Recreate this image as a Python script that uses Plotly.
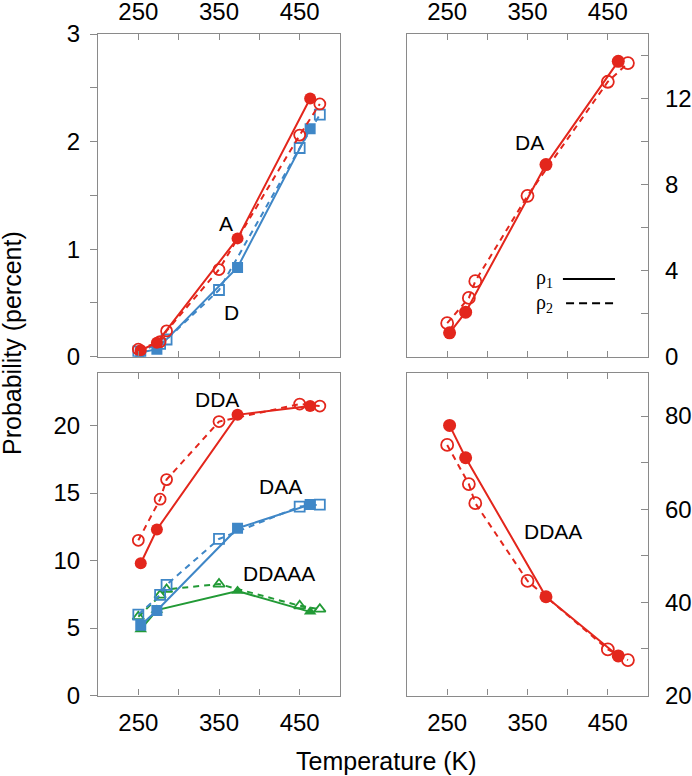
import plotly.graph_objects as go

# ---------------- data ----------------
T1 = [253, 273, 373, 463]              # rho_1 temperatures (K)
T2 = [250, 277, 285, 350, 450, 475]    # rho_2 temperatures (K)

A_r1 = [0.06, 0.13, 1.10, 2.40]
A_r2 = [0.07, 0.14, 0.24, 0.81, 2.06, 2.35]
D_r1 = [0.04, 0.07, 0.83, 2.12]
D_r2 = [0.05, 0.12, 0.16, 0.62, 1.94, 2.25]

DA_r1 = [1.11, 2.07, 8.93, 13.73]
DA_r2 = [1.56, 2.73, 3.51, 7.48, 12.78, 13.65]

DDA_r1 = [9.8, 12.3, 20.8, 21.46]
DDA_r2 = [11.5, 14.55, 16.0, 20.3, 21.6, 21.45]
DAA_r1 = [5.2, 6.3, 12.4, 14.15]
DAA_r2 = [6.0, 7.45, 8.2, 11.6, 14.0, 14.15]
DDAAA_r1 = [4.9, 6.33, 7.74, 6.2]
DDAAA_r2 = [5.84, 7.44, 7.86, 8.26, 6.65, 6.4]

DDAA_r1 = [78.0, 71.05, 41.2, 28.5]
DDAA_r2 = [73.8, 65.4, 61.3, 44.6, 29.9, 27.6]

x_ticks = [250, 350, 450]
y_ticks_A = [0, 1, 2, 3]
y_ticks_DA = [0, 4, 8, 12]
y_ticks_3 = [0, 5, 10, 15, 20]
y_ticks_DDAA = [20, 40, 60, 80]

RED = "#E3261C"
BLUE = "#3F87C7"
GREEN = "#229A36"
AXC = "#8A8A8A"
FONT = "Liberation Sans, Arial, sans-serif"

W, H = 692, 776


def px(x):
    return x / W


def py(y):
    return 1 - y / H


fig = go.Figure()


def add_pair(x1, y1, x2, y2, color, sym_fill, sym_open, xa, ya, size=12):
    fig.add_trace(go.Scatter(
        x=x2, y=y2, mode="lines+markers", xaxis=xa, yaxis=ya, showlegend=False,
        line=dict(color=color, width=2, dash="6px,5px"),
        marker=dict(symbol=sym_open, size=size - 1, color=color,
                    line=dict(color=color, width=1.8))))
    fig.add_trace(go.Scatter(
        x=x1, y=y1, mode="lines+markers", xaxis=xa, yaxis=ya, showlegend=False,
        line=dict(color=color, width=2),
        marker=dict(symbol=sym_fill, size=size, color=color,
                    line=dict(width=0))))


# top-left: A and D
add_pair(T1, D_r1, T2, D_r2, BLUE, "square", "square-open", "x", "y", 11)
add_pair(T1, A_r1, T2, A_r2, RED, "circle", "circle-open", "x", "y", 12)
# top-right: DA
add_pair(T1, DA_r1, T2, DA_r2, RED, "circle", "circle-open", "x2", "y2", 13)
# bottom-left
add_pair(T1, DDAAA_r1, T2, DDAAA_r2, GREEN, "triangle-up", "triangle-up-open", "x3", "y3", 11)
add_pair(T1, DAA_r1, T2, DAA_r2, BLUE, "square", "square-open", "x3", "y3", 11)
add_pair(T1, DDA_r1, T2, DDA_r2, RED, "circle", "circle-open", "x3", "y3", 12)
# bottom-right
add_pair(T1, DDAA_r1, T2, DDAA_r2, RED, "circle", "circle-open", "x4", "y4", 13)

L_dom = [px(98), px(340)]
R_dom = [px(407), px(648)]
T_dom = [py(356.7), py(34)]
B_dom = [py(695.5), py(373)]

tickfont = dict(family=FONT, size=24, color="black")


def xax(dom, anchor, side, standoff):
    return dict(domain=dom, anchor=anchor, side=side, range=[200, 500],
                tickmode="array", tickvals=x_ticks,
                ticks="inside", ticklen=6, tickcolor=AXC, tickwidth=1.2,
                minor=dict(tick0=200, dtick=50, ticks="inside", ticklen=6,
                           tickcolor=AXC, tickwidth=1.2, showgrid=False),
                showline=True, linecolor=AXC, linewidth=1.2, mirror="ticks",
                showgrid=False, zeroline=False, tickfont=tickfont,
                ticklabelstandoff=standoff, automargin=False)


def yax(dom, anchor, side, rng, vals, mdt, mt0, ticks, standoff):
    return dict(domain=dom, anchor=anchor, side=side, range=rng,
                tickmode="array", tickvals=vals,
                ticks=ticks, ticklen=7, tickcolor=AXC, tickwidth=1.2,
                minor=dict(tick0=mt0, dtick=mdt, ticks=ticks, ticklen=7,
                           tickcolor=AXC, tickwidth=1.2, showgrid=False),
                showline=True, linecolor=AXC, linewidth=1.2, mirror=True,
                showgrid=False, zeroline=False, tickfont=tickfont,
                ticklabelstandoff=standoff, automargin=False)


fig.update_layout(
    width=W, height=H,
    margin=dict(l=0, r=0, t=0, b=0, autoexpand=False),
    paper_bgcolor="white", plot_bgcolor="white",
    font=dict(family=FONT, color="black"),
    xaxis=xax(L_dom, "y", "top", 3),
    xaxis2=xax(R_dom, "y2", "top", 3),
    xaxis3=xax(L_dom, "y3", "bottom", 6),
    xaxis4=xax(R_dom, "y4", "bottom", 6),
    yaxis=yax(T_dom, "x", "left", [0, 3], y_ticks_A, 0.5, 0, "outside", 5),
    yaxis2=yax(T_dom, "x2", "right", [0, 15], y_ticks_DA, 2, 0, "inside", 11),
    yaxis3=yax(B_dom, "x3", "left", [0, 23.9], y_ticks_3, 5, 0, "outside", 5),
    yaxis4=yax(B_dom, "x4", "right", [20, 89.25], y_ticks_DDAA, 10, 20, "inside", 11),
)

lab = dict(family=FONT, size=21, color="black")
labels = [
    ("A", 359, 1.24, "x", "y"),
    ("D", 365, 0.415, "x", "y"),
    ("DA", 352, 9.95, "x2", "y2"),
    ("DDA", 347, 21.94, "x3", "y3"),
    ("DAA", 426.5, 15.52, "x3", "y3"),
    ("DDAAA", 424.4, 9.05, "x3", "y3"),
    ("DDAA", 381.7, 55.2, "x4", "y4"),
]
for t, xx, yy, xr, yr in labels:
    fig.add_annotation(text=t, x=xx, y=yy, xref=xr, yref=yr, showarrow=False,
                       font=lab, xanchor="center", yanchor="middle")

# legend (rho_1 solid, rho_2 dashed)
fig.add_shape(type="line", xref="x2 domain", yref="y2 domain",
              x0=0.647, x1=0.863, y0=0.241, y1=0.241,
              line=dict(color="black", width=2))
fig.add_shape(type="line", xref="x2 domain", yref="y2 domain",
              x0=0.66, x1=0.855, y0=0.166, y1=0.166,
              line=dict(color="black", width=2, dash="8px,5px"))
leg_font = dict(family="Liberation Serif, DejaVu Serif, serif", size=20, color="black")
fig.add_annotation(text="ρ<sub>1</sub>", xref="x2 domain", yref="y2 domain",
                   x=0.57, y=0.241, showarrow=False, font=leg_font,
                   xanchor="center", yanchor="middle")
fig.add_annotation(text="ρ<sub>2</sub>", xref="x2 domain", yref="y2 domain",
                   x=0.57, y=0.166, showarrow=False, font=leg_font,
                   xanchor="center", yanchor="middle")

# axis titles
fig.add_annotation(text="Temperature (K)", xref="paper", yref="paper",
                   x=px(386), y=py(761), showarrow=False,
                   font=dict(family=FONT, size=25, color="black"),
                   xanchor="center", yanchor="middle")
fig.add_annotation(text="Probability (percent)", xref="paper", yref="paper",
                   x=px(12), y=py(343), showarrow=False, textangle=-90,
                   font=dict(family=FONT, size=25, color="black"),
                   xanchor="center", yanchor="middle")

# remove the browser's default 8px body margin so the figure fills the window
fig.write_html("out.html",
               config={"displayModeBar": False},
               post_script="document.body.style.margin='0px';"
                           "document.body.style.overflow='hidden';")
